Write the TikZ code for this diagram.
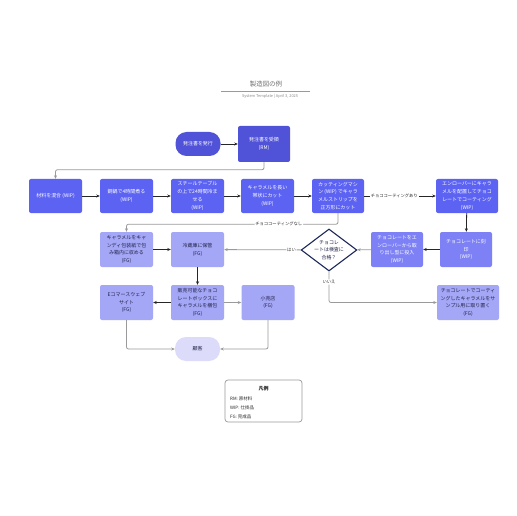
\documentclass[tikz,border=0pt]{standalone}
\usepackage{fontspec}
\newfontfamily\jp{Noto Sans CJK JP}
\usetikzlibrary{arrows.meta,shapes.geometric}
\definecolor{cRM}{HTML}{5052D8}
\definecolor{cWIP}{HTML}{5C62F2}
\definecolor{cWIPb}{HTML}{7D81F5}
\definecolor{cFG}{HTML}{A4A6F6}
\definecolor{cCust}{HTML}{DCDCFA}
\definecolor{cTxt}{HTML}{22244A}
\definecolor{cGray}{HTML}{9A9A9A}
\definecolor{cDia}{HTML}{1F2A5C}
\tikzset{
  base/.style={align=center, font=\jp\fontsize{5}{7.8}\selectfont, inner sep=0.5bp, rounded corners=2bp},
  rmbox/.style={base, fill=cRM, text=white, minimum width=52bp, minimum height=36bp},
  wipbox/.style={base, fill=cWIP, text=white, minimum width=53bp, minimum height=34bp},
  wipbbox/.style={base, fill=cWIPb, text=white, minimum width=52bp, minimum height=35bp},
  fgbox/.style={base, fill=cFG, text=cTxt, minimum width=53bp, minimum height=35bp},
  pill/.style={base, rounded corners=11bp, minimum width=45bp, minimum height=24bp},
  decision/.style={diamond, aspect=1.35, draw=cDia, line width=1.1bp, fill=white, text=cTxt, align=center, font=\jp\fontsize{5}{7.5}\selectfont, inner sep=0pt, minimum width=55bp, minimum height=42bp},
  blk/.style={draw=black!85, line width=0.8bp, -{Stealth[length=3.5bp,width=3bp]}},
  gry/.style={draw=cGray, line width=0.8bp, rounded corners=2bp, -{Stealth[length=3.5bp,width=3bp]}},
  lbl/.style={fill=white, inner sep=0.8bp, text=black!85, font=\jp\fontsize{4.3}{5}\selectfont},
}
\begin{document}
\begin{tikzpicture}[x=1bp,y=-1bp]
\useasboundingbox[fill=white] (0,0) rectangle (516,516);
% title
\node[font=\jp\fontsize{6.5}{7}\selectfont, text=black!55] (title) at (266,84.5) {製造図の例};
\draw[cGray, line width=0.8bp] (221,91) -- (310,91);
\node[font=\jp\fontsize{3.9}{5}\selectfont, text=black!45] (sub) at (270,96.5) {System Template | April 3, 2025};
% row 1
\node[pill, fill=cRM, text=white] (issue) at (198,144) {発注書を発行};
\node[rmbox] (recv) at (264,144) {発注書を受領\\(RM)};
% row 2
\node[wipbox] (mix) at (55.5,196) {材料を混合 (WIP)};
\node[wipbox] (boil) at (126.5,196) {銅鍋で4時間煮る\\(WIP)};
\node[wipbox] (steel) at (197.5,196) {スチールテーブル\\の上で24時間冷ま\\せる\\(WIP)};
\node[wipbox] (strip) at (267.5,196) {キャラメルを長い\\帯状にカット\\(WIP)};
\node[wipbox, minimum width=52bp] (cut) at (338,196) {カッティングマシ\\ン (WIP) でキャラ\\メルストリップを\\正方形にカット};
\node[wipbox, minimum width=62bp] (enr) at (467,196) {エンローバーにキャラ\\メルを配置してチョコ\\レートでコーティング\\(WIP)};
% row 3
\node[fgbox] (candy) at (126.5,249.5) {キャラメルをキャ\\ンディ包装紙で包\\み箱内に収める\\(FG)};
\node[fgbox] (fridge) at (197.5,249.5) {冷蔵庫に保管\\(FG)};
\node[decision] (dia) at (329,250) {チョコレ\\ートは検査に\\合格？};
\node[wipbbox] (extr) at (397,249.5) {チョコレートをエ\\ンローバーから取\\り出し型に投入\\(WIP)};
\node[wipbbox] (stamp) at (466,249.5) {チョコレートに刻\\印\\(WIP)};
% row 4
\node[fgbox] (ecom) at (126.5,302.5) {Eコマースウェブ\\サイト\\(FG)};
\node[fgbox] (pack) at (197.5,302.5) {販売可能なチョコ\\レートボックスに\\キャラメルを梱包\\(FG)};
\node[fgbox] (retail) at (268,302.5) {小売店\\(FG)};
\node[fgbox, minimum width=62bp] (sample) at (468,302.5) {チョコレートでコーティ\\ングしたキャラメルをサ\\ンプル用に取り置く\\(FG)};
\node[pill, fill=cCust, text=cTxt] (cust) at (197.5,349) {顧客};
% legend
\node[draw=cGray, line width=0.7bp, fill=white, rounded corners=3bp, minimum width=77bp, minimum height=42bp] (leg) at (263.5,401) {};
\node[font=\jp\bfseries\fontsize{5}{6}\selectfont, text=black!85] (legt) at (263.5,388.5) {凡例};
\node[font=\jp\fontsize{4.5}{6}\selectfont, text=black!85, anchor=west, inner sep=0pt] (l1) at (230,399) {RM: 原材料};
\node[font=\jp\fontsize{4.5}{6}\selectfont, text=black!85, anchor=west, inner sep=0pt] (l2) at (230,408) {WIP: 仕掛品};
\node[font=\jp\fontsize{4.5}{6}\selectfont, text=black!85, anchor=west, inner sep=0pt] (l3) at (230,417) {FG: 完成品};
% edges
\draw[blk] (issue) -- (recv);
\draw[gry] (recv.south) -- ++(0,7.5) -| (mix.north);
\draw[blk] (mix) -- (boil);
\draw[blk] (boil) -- (steel);
\draw[blk] (steel) -- (strip);
\draw[blk] (strip) -- (cut);
\draw[blk] (cut) -- node[lbl, pos=0.42] {チョココーティングあり} (enr);
\draw[gry] (cut.south) -- ++(0,11) -| node[lbl, pos=0.14] {チョココーティングなし} (candy.north);
\draw[blk] (enr) -- (stamp);
\draw[blk] (stamp) -- (extr);
\draw[gry] (extr) -- (dia);
\draw[gry] (dia) -- node[lbl, pos=0.12] {はい} (fridge);
\draw[gry] (dia.south) |- node[lbl, pos=0.17] {いいえ} (sample.west);
\draw[blk] (candy) -- (fridge);
\draw[blk] (fridge) -- (pack);
\draw[blk] (pack) -- (ecom);
\draw[gry] (pack) -- (retail);
\draw[gry] (ecom.south) |- (cust.west);
\draw[gry] (retail.south) |- (cust.east);
\end{tikzpicture}
\end{document}
